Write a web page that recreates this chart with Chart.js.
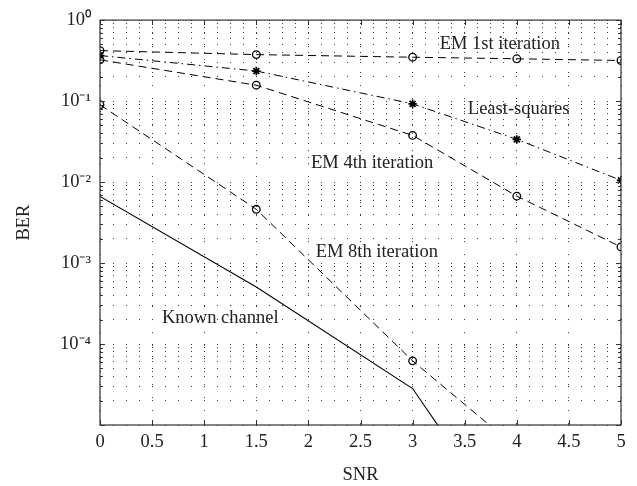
<!DOCTYPE html>
<html>
<head>
<meta charset="utf-8">
<script src="https://cdn.jsdelivr.net/npm/chart.js@4/dist/chart.umd.min.js"></script>
<style>
html,body{margin:0;padding:0;background:#fff;}
#wrap{width:637px;height:486px;}
</style>
</head>
<body>
<div id="wrap"><canvas id="c" width="637" height="486"></canvas></div>
<script>
// ---- data ----
const snr = [0, 1.5, 3, 4, 5];
const em1st = [0.42, 0.375, 0.348, 0.333, 0.317];
const leastSquares = [0.365, 0.235, 0.0925, 0.0337, 0.0105];
const em4th = [0.323, 0.157, 0.0377, 0.0067, 0.00158];
const snrShort = [0, 1.5, 3, 4];
const em8th = [0.090, 0.00461, 6.2e-5, 5.2e-6];
const knownChannel = [0.00664, 5.05e-4, 2.82e-5, 3.8e-7];

const yExponents = [-5, -4, -3, -2, -1, 0];
const yTickLabels = {'0': '10\u2070', '-1': '10\u207B\u00B9', '-2': '10\u207B\u00B2', '-3': '10\u207B\u00B3', '-4': '10\u207B\u2074'};
const xTickLabels = ['0', '0.5', '1', '1.5', '2', '2.5', '3', '3.5', '4', '4.5', '5'];

const annotations = [
  {text: 'EM 1st iteration', x: 3.26, y: 0.51},
  {text: 'Least-squares', x: 3.53, y: 0.0804},
  {text: 'EM 4th iteration', x: 2.025, y: 0.0172},
  {text: 'EM 8th iteration', x: 2.07, y: 0.00138},
  {text: 'Known channel', x: 0.595, y: 2.06e-4}
];

const FONT = '"Liberation Serif", "Times New Roman", serif';
const FS = 18.5;
const TXT = '#222';

function pts(xs, ys) { return xs.map((x, i) => ({x: x, y: ys[i]})); }

const yTickValues = [];
yExponents.forEach(e => {
  if (e === 0) { yTickValues.push(1); return; }
  for (let m = 1; m <= 9; m++) yTickValues.push(m * Math.pow(10, e));
});

const framePlugin = {
  id: 'frame',
  afterDatasetsDraw(chart) {
    const ctx = chart.ctx;
    const a = chart.chartArea;
    const xs = chart.scales.x, ys = chart.scales.y;
    ctx.save();
    ctx.strokeStyle = '#333';
    ctx.lineWidth = 1.2;
    ctx.strokeRect(a.left, a.top, a.right - a.left, a.bottom - a.top);
    ctx.lineWidth = 1;
    ctx.beginPath();
    xTickLabels.forEach(l => {
      const px = Math.round(xs.getPixelForValue(parseFloat(l))) + 0.5;
      ctx.moveTo(px, a.bottom); ctx.lineTo(px, a.bottom - 5);
      ctx.moveTo(px, a.top); ctx.lineTo(px, a.top + 5);
    });
    yTickValues.forEach(v => {
      const py = Math.round(ys.getPixelForValue(v)) + 0.5;
      const lg = Math.log10(v);
      const major = Math.abs(lg - Math.round(lg)) < 1e-9;
      const len = major ? 5 : 3;
      ctx.moveTo(a.left, py); ctx.lineTo(a.left + len, py);
      ctx.moveTo(a.right, py); ctx.lineTo(a.right - len, py);
    });
    ctx.stroke();
    ctx.fillStyle = TXT;
    ctx.font = FS + 'px ' + FONT;
    ctx.textAlign = 'left';
    ctx.textBaseline = 'middle';
    annotations.forEach(an => {
      ctx.fillText(an.text, xs.getPixelForValue(an.x), ys.getPixelForValue(an.y));
    });
    ctx.restore();
  }
};

const dotGrid = {color: '#333', lineWidth: 1, drawTicks: false};
const dotBorder = {display: false, dash: [1, 12]};

new Chart(document.getElementById('c'), {
  type: 'line',
  data: {
    datasets: [
      {label: 'EM 1st iteration', data: pts(snr, em1st), borderColor: '#000', borderWidth: 1,
       borderDash: [8, 5], pointStyle: 'circle', pointRadius: 3.8, pointBorderColor: '#000',
       pointBackgroundColor: 'rgba(0,0,0,0)', pointBorderWidth: 1.3},
      {label: 'Least-squares', data: pts(snr, leastSquares), borderColor: '#000', borderWidth: 1,
       borderDash: [8, 4, 1.5, 4], pointStyle: 'star', pointRadius: 4.2, pointBorderColor: '#000',
       pointBackgroundColor: '#000', pointBorderWidth: 1.7},
      {label: 'EM 4th iteration', data: pts(snr, em4th), borderColor: '#000', borderWidth: 1,
       borderDash: [8, 5], pointStyle: 'circle', pointRadius: 3.8, pointBorderColor: '#000',
       pointBackgroundColor: 'rgba(0,0,0,0)', pointBorderWidth: 1.3},
      {label: 'EM 8th iteration', data: pts(snrShort, em8th), borderColor: '#000', borderWidth: 1,
       borderDash: [8, 5], pointStyle: 'circle', pointRadius: 3.8, pointBorderColor: '#000',
       pointBackgroundColor: 'rgba(0,0,0,0)', pointBorderWidth: 1.3},
      {label: 'Known channel', data: pts(snrShort, knownChannel), borderColor: '#000', borderWidth: 1.1,
       pointRadius: 0}
    ]
  },
  options: {
    responsive: false,
    animation: false,
    layout: {padding: {top: 14, right: 16, left: 0, bottom: 0}},
    plugins: {legend: {display: false}, tooltip: {enabled: false}},
    elements: {line: {tension: 0}},
    scales: {
      x: {
        type: 'linear', min: 0, max: 5,
        afterBuildTicks(scale) { scale.ticks = xTickLabels.map(l => ({value: parseFloat(l)})); },
        ticks: {
          callback: (v) => { const i = xTickLabels.findIndex(l => Math.abs(parseFloat(l) - v) < 1e-9); return i >= 0 ? xTickLabels[i] : ''; },
          font: {family: FONT, size: FS}, color: TXT, padding: 6, maxRotation: 0, autoSkip: false
        },
        grid: dotGrid,
        border: dotBorder,
        title: {display: true, text: 'SNR', font: {family: FONT, size: FS}, color: TXT, padding: {top: 5, bottom: 0}},
        afterFit(scale) { scale.height = 61; }
      },
      y: {
        type: 'logarithmic', min: 1e-5, max: 1,
        afterBuildTicks(scale) { scale.ticks = yTickValues.map(v => ({value: v})); },
        ticks: {
          callback: (v) => {
            const lg = Math.log10(v);
            const r = Math.round(lg);
            if (Math.abs(lg - r) < 1e-9 && yTickLabels[String(r)] !== undefined) return yTickLabels[String(r)];
            return '';
          },
          font: {family: FONT, size: FS}, color: TXT, padding: 9, autoSkip: false
        },
        grid: dotGrid,
        border: dotBorder,
        title: {display: true, text: 'BER', font: {family: FONT, size: FS}, color: TXT, padding: {top: 13, bottom: 0}},
        afterFit(scale) { scale.width = 100; }
      }
    }
  },
  plugins: [framePlugin]
});
</script>
</body>
</html>
